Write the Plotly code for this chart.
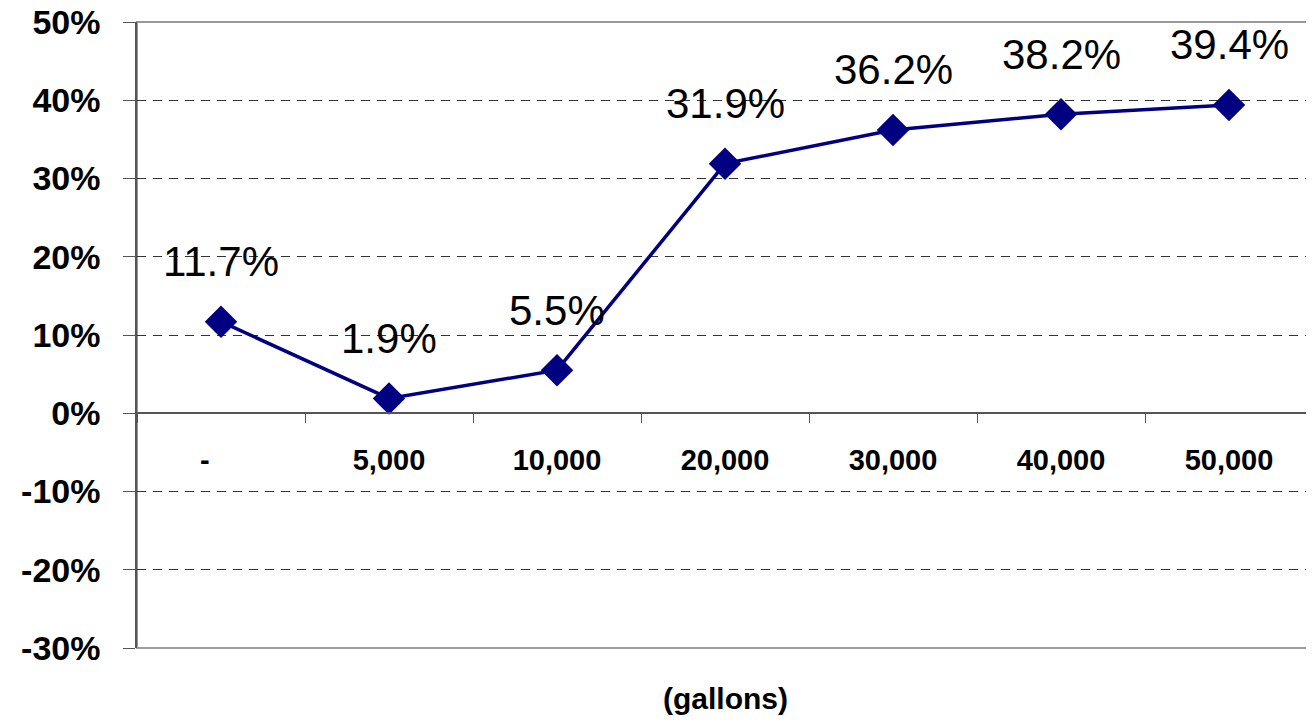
import plotly.graph_objects as go

categories = ["-\u00a0\u00a0\u00a0\u00a0", "5,000", "10,000", "20,000", "30,000", "40,000", "50,000"]
values = [11.7, 1.9, 5.5, 31.9, 36.2, 38.2, 39.4]
y_ticks = [-30, -20, -10, 0, 10, 20, 30, 40, 50]
y_tick_text = [f"{v}%" for v in y_ticks]
x_title = "(gallons)"

FONT = "Liberation Sans, Arial, sans-serif"
NAVY = "#000080"

fig = go.Figure()
fig.add_trace(go.Scatter(
    x=categories, y=values, mode="lines+markers",
    line=dict(color=NAVY, width=3.5),
    marker=dict(symbol="diamond", size=25, color=NAVY),
    showlegend=False, cliponaxis=False,
))

for c, v in zip(categories, values):
    fig.add_annotation(x=c, y=v, text=f"{v:.1f}%", showarrow=False, yshift=60,
                       font=dict(family=FONT, size=42, color="black"))

fig.add_annotation(x=0.5, y=0, xref="paper", yref="paper", yshift=-50, yanchor="middle",
                   text=f"<b>{x_title}</b>", showarrow=False,
                   font=dict(family=FONT, size=30, color="black"))

fig.add_shape(type="rect", xref="paper", yref="paper", x0=0, x1=1, y0=0, y1=1,
              line=dict(color="#999999", width=2), layer="below")

fig.update_layout(
    width=1306, height=709,
    margin=dict(l=129, r=1, t=14, b=69, autoexpand=False),
    paper_bgcolor="white", plot_bgcolor="white",
    xaxis=dict(
        type="category", range=[-0.5, 6.5],
        anchor="free", position=(0 - (-30)) / 80,
        showline=True, linecolor="#555555", linewidth=1.5,
        ticks="outside", ticklen=9, tickcolor="#555555", tickson="boundaries",
        ticklabelstandoff=21, automargin=False,
        showgrid=False, zeroline=False,
        tickfont=dict(family=FONT, size=29, color="black", weight="bold"),
    ),
    yaxis=dict(
        range=[-30, 50], tickvals=y_ticks, ticktext=y_tick_text,
        showline=True, linecolor="#555555", linewidth=1.5,
        ticks="outside", ticklen=12, tickcolor="#555555",
        showgrid=True, gridcolor="#333333", gridwidth=1, griddash="9px,7px",
        zeroline=True, zerolinecolor="#555555", zerolinewidth=1.5,
        tickfont=dict(family=FONT, size=34, color="black", weight="bold"),
        ticklabelstandoff=16, ticklabeloverflow="allow", automargin=False,
    ),
)

fig.write_html("out.html")
